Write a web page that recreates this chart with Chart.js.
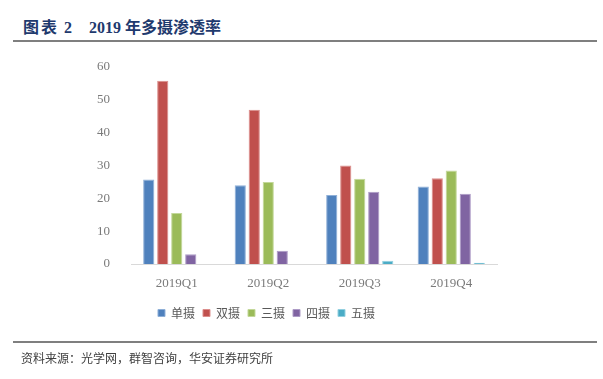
<!DOCTYPE html>
<html>
<head>
<meta charset="utf-8">
<script src="https://cdn.jsdelivr.net/npm/chart.js@4"></script>
<style>
  html, body { margin: 0; padding: 0; background: #fff; }
  #wrap { position: relative; width: 603px; height: 379px; overflow: hidden; }
  #chart { position: absolute; left: 0; top: 0; }
  .title {
    position: absolute; top: 18px; height: 20px; line-height: 20px;
    font-family: "Liberation Serif", "Noto Sans CJK SC", serif;
    font-weight: bold; font-size: 16px; color: #1f3a6e; white-space: pre;
  }
  .rule { position: absolute; left: 13px; width: 584px; height: 2px; background: #7f7f7f; }
  .source {
    position: absolute; left: 21px; top: 349px;
    font-family: "Noto Sans CJK SC", sans-serif; font-size: 12px; color: #404040;
  }
</style>
</head>
<body>
<div id="wrap">
  <div class="title" style="left:23px; letter-spacing:2px">图表</div>
  <div class="title" style="left:64px">2</div>
  <div class="title" style="left:89px">2019 年多摄渗透率</div>
  <div class="rule" style="top:40px"></div>
  <canvas id="chart" width="603" height="379"></canvas>
  <div class="rule" style="top:341px"></div>
  <div class="source">资料来源：光学网，群智咨询，华安证券研究所</div>
</div>
<script>
// 2019 年多摄渗透率 (%)
const quarters = ['2019Q1', '2019Q2', '2019Q3', '2019Q4'];
const seriesNames = ['单摄', '双摄', '三摄', '四摄', '五摄'];
const single = [25.7, 24.0, 21.0, 23.6];
const dual = [55.8, 47.0, 30.0, 26.1];
const triple = [15.5, 25.0, 26.0, 28.5];
const quad = [3.0, 4.0, 22.0, 21.4];
const penta = [0, 0, 1.0, 0.4];
const yTicks = [0, 10, 20, 30, 40, 50, 60];

const COLORS = ['#4f81bd', '#c0504d', '#9bbb59', '#8064a2', '#4bacc6'];
const EDGES = ['#8fb0d8', '#dc8e8c', '#c3d89a', '#ad9bc6', '#93d0e0'];

const seriesValues = [single, dual, triple, quad, penta];
const datasets = seriesNames.map((name, i) => ({
    label: name,
    data: seriesValues[i],
    backgroundColor: COLORS[i],
    borderColor: EDGES[i],
    borderWidth: 1,
    categoryPercentage: 0.765,
    barPercentage: 0.8
}));

const tickFont = { family: '"Liberation Serif", serif', size: 13 };

new Chart(document.getElementById('chart'), {
    type: 'bar',
    data: { labels: quarters, datasets: datasets },
    options: {
        responsive: false,
        animation: false,
        // left padding centres the legend like the original
        layout: { padding: { left: 36, right: 106, top: 67, bottom: 50 } },
        plugins: {
            legend: {
                position: 'bottom',
                labels: {
                    boxWidth: 7,
                    boxHeight: 7,
                    padding: 8,
                    color: '#595959',
                    font: { family: '"Noto Sans CJK SC", sans-serif', size: 12 }
                }
            },
            tooltip: { enabled: false }
        },
        scales: {
            x: {
                grid: { display: false },
                border: { display: true, color: '#d9d9d9', width: 1 },
                ticks: { color: '#7a7a7a', font: tickFont, padding: 4 },
                afterFit: function(scale) { scale.height = 35; }
            },
            y: {
                min: yTicks[0],
                max: yTicks[yTicks.length - 1],
                grid: { display: false },
                border: { display: false },
                ticks: {
                    stepSize: 10,
                    color: '#7a7a7a',
                    font: tickFont,
                    padding: 13
                },
                afterBuildTicks: function(scale) {
                    scale.ticks = yTicks.map(v => ({ value: v }));
                },
                afterFit: function(scale) { scale.width = 95; }
            }
        }
    }
});
</script>
</body>
</html>
